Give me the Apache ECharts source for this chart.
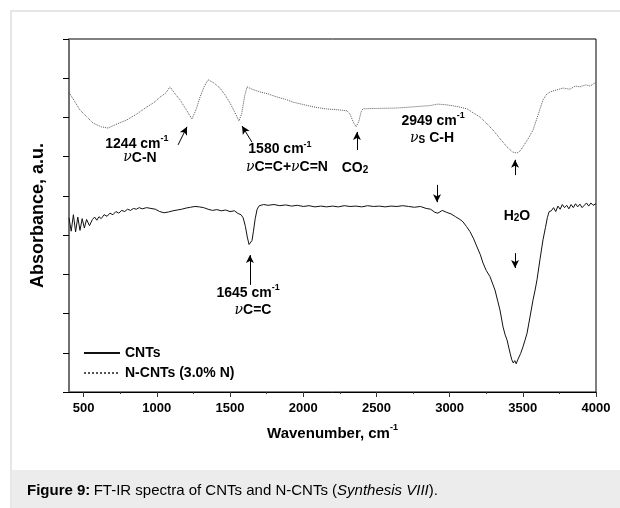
<!DOCTYPE html>
<html>
<head>
<meta charset="utf-8">
<script src="https://cdn.jsdelivr.net/npm/echarts@6/dist/echarts.min.js"></script>
<style>
  html, body { margin: 0; padding: 0; background: #fff; }
  #chart { width: 620px; height: 508px; }
</style>
</head>
<body>
<div id="chart"></div>
<script>
  // tick labels of the wavenumber axis
  const xTicks = [500, 1000, 1500, 2000, 2500, 3000, 3500, 4000];
  const xMinorTicks = [750, 1250, 1750, 2250, 2750, 3250, 3750];

  // CNTs spectrum (solid)
  const cntWave = [400, 415, 430, 445, 460, 475, 490, 505, 520, 540, 560, 575, 590,
    605, 620, 640, 660, 680, 700, 720, 740, 760, 780, 800, 820, 840, 860, 880, 900, 930, 960, 990, 1020,
    1050, 1080, 1110, 1140, 1170, 1200, 1230, 1260, 1290, 1320, 1350, 1380, 1410, 1440, 1470, 1500, 1530, 1555, 1575, 1590,
    1605, 1618, 1630, 1640, 1650, 1660, 1672, 1685, 1700, 1730, 1760, 1800, 1840, 1880, 1920, 1960, 2000, 2040, 2080, 2120,
    2160, 2200, 2240, 2280, 2320, 2360, 2400, 2440, 2480, 2520, 2560, 2600, 2640, 2680, 2720, 2760, 2800, 2840, 2870, 2900,
    2920, 2950, 2980, 3010, 3040, 3070, 3091, 3115, 3139, 3165, 3187, 3210, 3228, 3250, 3276, 3295, 3310, 3330, 3344, 3365,
    3380, 3392, 3405, 3413, 3425, 3435, 3445, 3455, 3465, 3475, 3485, 3501, 3515, 3529, 3549, 3570, 3584, 3597, 3617, 3638,
    3655, 3668, 3680, 3695, 3710, 3725, 3740, 3755, 3770, 3785, 3800, 3815, 3830, 3845, 3860, 3875, 3890, 3905, 3920, 3935,
    3950, 3965, 3980, 4000];
  const cntAbs = [4.44, 4.10, 4.52, 4.08, 4.46, 4.12, 4.42, 4.18, 4.40, 4.24, 4.40, 4.46, 4.38,
    4.47, 4.42, 4.52, 4.48, 4.56, 4.52, 4.60, 4.56, 4.63, 4.60, 4.66, 4.63, 4.68, 4.66, 4.70, 4.67, 4.70, 4.68, 4.66, 4.60,
    4.57, 4.59, 4.62, 4.64, 4.66, 4.69, 4.71, 4.73, 4.72, 4.70, 4.66, 4.63, 4.65, 4.62, 4.64, 4.60, 4.62, 4.55, 4.52, 4.44,
    4.22, 3.95, 3.76, 3.74, 3.86, 4.10, 4.42, 4.66, 4.75, 4.78, 4.76, 4.78, 4.75, 4.77, 4.74, 4.76, 4.73, 4.75, 4.72, 4.74,
    4.72, 4.74, 4.72, 4.75, 4.73, 4.74, 4.72, 4.75, 4.73, 4.74, 4.72, 4.74, 4.73, 4.75, 4.73, 4.71, 4.73, 4.68, 4.66, 4.58,
    4.56, 4.63, 4.58, 4.54, 4.47, 4.40, 4.34, 4.22, 4.09, 3.90, 3.70, 3.50, 3.29, 3.10, 2.94, 2.75, 2.60, 2.30, 2.09, 1.66,
    1.45, 1.33, 1.12, 0.99, 0.82, 0.74, 0.80, 0.72, 0.82, 0.86, 0.98, 1.15, 1.32, 1.50, 1.91, 2.35, 2.60, 2.86, 3.37, 3.88,
    4.20, 4.45, 4.60, 4.62, 4.70, 4.60, 4.74, 4.66, 4.78, 4.70, 4.76, 4.67, 4.78, 4.70, 4.80, 4.72, 4.79, 4.70, 4.76, 4.82,
    4.74, 4.82, 4.76, 4.80];

  // N-CNTs (3.0% N) spectrum (dotted)
  const ncntWave = [400, 440, 475, 520, 564, 620, 666, 720, 796, 860, 933, 980, 1022, 1060, 1090, 1125, 1158, 1200, 1240, 1270,
    1295, 1325, 1350, 1390, 1431, 1465, 1500, 1530, 1561, 1580, 1600, 1616, 1650, 1705, 1760, 1821, 1880, 1930, 2000, 2067,
    2150, 2251, 2299, 2320, 2340, 2361, 2380, 2395, 2408, 2500, 2641, 2750, 2860, 2920, 2982, 3050, 3119, 3160, 3208, 3250,
    3296, 3340, 3392, 3430, 3460, 3480, 3501, 3540, 3570, 3604, 3638, 3660, 3686, 3730, 3775, 3820, 3860, 3891, 3930, 3960, 4000];
  const ncntAbs = [7.64, 7.40, 7.19, 7.02, 6.86, 6.76, 6.73, 6.82, 6.94, 7.08, 7.27, 7.38, 7.52, 7.62, 7.78, 7.60, 7.45, 7.20, 6.96, 7.22,
    7.52, 7.80, 7.96, 7.88, 7.75, 7.58, 7.37, 7.15, 6.91, 7.10, 7.55, 7.78, 7.72, 7.65, 7.60, 7.52, 7.46, 7.39, 7.33, 7.27,
    7.22, 7.19, 7.17, 7.08, 6.90, 6.76, 6.90, 7.14, 7.22, 7.23, 7.24, 7.27, 7.30, 7.34, 7.32, 7.28, 7.22, 7.12, 7.01, 6.86,
    6.68, 6.48, 6.25, 6.12, 6.09, 6.14, 6.25, 6.48, 6.68, 7.06, 7.45, 7.58, 7.65, 7.70, 7.75, 7.72, 7.80, 7.78, 7.83, 7.80, 7.90];

  const seriesNames = ['CNTs', 'N-CNTs (3.0% N)'];

  // arrows: [fromX, fromY, toX, toY] in data units
  const arrows = [
    [1145, 6.30, 1206, 6.76],
    [1650, 6.37, 1582, 6.78],
    [2367, 6.17, 2367, 6.63],
    [3447, 5.53, 3447, 5.92],
    [2914, 5.28, 2914, 4.84],
    [3447, 3.54, 3447, 3.16],
    [1636, 2.73, 1636, 3.49],
  ];

  // annotation texts: [x, y, rich text]
  const notes = [
    [864, 6.35, '{b|1244 cm}{sup|-1}'],
    [885, 5.97, '{nu|ν}{b|C-N}'],
    [1841, 6.22, '{b|1580 cm}{sup|-1}'],
    [1889, 5.74, '{nu|ν}{b|C=C+}{nu|ν}{b|C=N}'],
    [2354, 5.74, '{b|CO}{sub|2}'],
    [2887, 6.94, '{b|2949 cm}{sup|-1}'],
    [2880, 6.50, '{nu|ν}{sub|S}{b| C-H}'],
    [3460, 4.51, '{b|H}{sub|2}{b|O}'],
    [1623, 2.55, '{b|1645 cm}{sup|-1}'],
    [1657, 2.09, '{nu|ν}{b|C=C}'],
  ];

  const zip = (xs, ys) => xs.map((x, i) => [x, ys[i]]);

  const FONT = 'Liberation Sans, Arial, sans-serif';
  const rich = {
    b: { fontFamily: FONT, fontWeight: 'bold', fontSize: 14, color: '#000', verticalAlign: 'bottom' },
    nu: { fontFamily: 'DejaVu Serif, serif', fontStyle: 'italic', fontSize: 14, color: '#000', verticalAlign: 'bottom' },
    sup: { fontFamily: FONT, fontWeight: 'bold', fontSize: 9, color: '#000', verticalAlign: 'top', padding: [0, 0, 8, 0] },
    sub: { fontFamily: FONT, fontWeight: 'bold', fontSize: 10, color: '#000', verticalAlign: 'bottom', padding: [6, 0, 0, 0] },
  };

  const chart = echarts.init(document.getElementById('chart'));

  chart.setOption({
    animation: false,
    grid: {
      left: 69, top: 39, right: 24, bottom: 116,
      show: true, borderColor: '#000', borderWidth: 1, backgroundColor: 'transparent',
    },
    legend: {
      orient: 'vertical',
      left: 78, top: 341,
      itemWidth: 36, itemHeight: 12, itemGap: 6,
      itemStyle: { opacity: 0 },
      textStyle: { fontFamily: FONT, fontWeight: 'bold', fontSize: 14, color: '#000' },
      data: seriesNames,
    },
    xAxis: [
      {
        type: 'value', min: 400, max: 4000,
        name: '{a|Wavenumber, cm}{s|-1}',
        nameLocation: 'middle', nameGap: 31,
        nameTextStyle: {
          rich: {
            a: { fontFamily: FONT, fontWeight: 'bold', fontSize: 15, color: '#000', verticalAlign: 'bottom' },
            s: { fontFamily: FONT, fontWeight: 'bold', fontSize: 9, color: '#000', verticalAlign: 'top', padding: [0, 0, 9, 0] },
          },
        },
        axisLine: { lineStyle: { color: '#000', width: 1 } },
        axisTick: { customValues: xTicks, length: 5, lineStyle: { color: '#333' } },
        axisLabel: {
          customValues: xTicks, margin: 10,
          formatter: (v) => String(v),
          fontFamily: FONT, fontWeight: 'bold', fontSize: 13, color: '#000',
        },
        splitLine: { show: false },
      },
      {
        type: 'value', min: 400, max: 4000, position: 'bottom', offset: 0,
        axisLine: { show: false },
        axisTick: { customValues: xMinorTicks, length: 2, lineStyle: { color: '#333' } },
        axisLabel: { show: false },
        splitLine: { show: false },
      },
    ],
    yAxis: {
      type: 'value', min: 0, max: 9, interval: 1,
      name: 'Absorbance, a.u.',
      nameLocation: 'middle', nameGap: 22, nameRotate: 90,
      nameTextStyle: { fontFamily: FONT, fontWeight: 'bold', fontSize: 18, color: '#000' },
      axisLine: { show: true, lineStyle: { color: '#707070', width: 2 } },
      axisTick: { show: true, length: 6, lineStyle: { color: '#000' } },
      axisLabel: { show: false },
      splitLine: { show: false },
    },
    series: [
      {
        name: seriesNames[0], type: 'line', xAxisIndex: 0,
        data: zip(cntWave, cntAbs),
        showSymbol: false, symbol: 'none',
        lineStyle: { color: '#111', width: 1 },
        itemStyle: { color: '#111' },
      },
      {
        name: seriesNames[1], type: 'line', xAxisIndex: 0,
        data: zip(ncntWave, ncntAbs),
        showSymbol: false, symbol: 'none',
        lineStyle: { color: '#555', width: 1, type: 'dotted' },
        itemStyle: { color: '#555' },
      },
      {
        type: 'line', xAxisIndex: 0, data: [], silent: true,
        markLine: {
          silent: true,
          symbol: ['none', 'arrow'], symbolSize: [6, 8],
          label: { show: false },
          lineStyle: { color: '#000', width: 1, type: 'solid' },
          data: arrows.map((a) => [{ coord: [a[0], a[1]] }, { coord: [a[2], a[3]] }]),
        },
      },
    ],
  });

  // annotation texts placed through the chart's own scales
  const texts = notes.map((n) => {
    const p = chart.convertToPixel({ gridIndex: 0 }, [n[0], n[1]]);
    return {
      type: 'text', x: p[0], y: p[1], z: 10,
      style: { text: n[2], rich, align: 'center', verticalAlign: 'middle' },
    };
  });

  chart.setOption({
    graphic: [
      // outer figure frame and caption band
      {
        type: 'rect', z: -10, silent: true,
        shape: { x: 11, y: 11, width: 640, height: 520 },
        style: { fill: 'none', stroke: '#dedede', lineWidth: 1.5 },
      },
      {
        type: 'rect', z: -9, silent: true,
        shape: { x: 11.5, y: 470, width: 640, height: 60 },
        style: { fill: '#ececec' },
      },
      {
        type: 'text', left: 27, top: 483,
        style: {
          text: '{b|Figure 9:} {n|FT-IR spectra of CNTs and N-CNTs (}{i|Synthesis VIII}{n|).}',
          rich: {
            b: { fontFamily: FONT, fontWeight: 'bold', fontSize: 15, color: '#222' },
            n: { fontFamily: FONT, fontSize: 15, color: '#222' },
            i: { fontFamily: FONT, fontStyle: 'italic', fontSize: 15, color: '#222' },
          },
        },
      },
    ].concat(texts),
  });
</script>
</body>
</html>
